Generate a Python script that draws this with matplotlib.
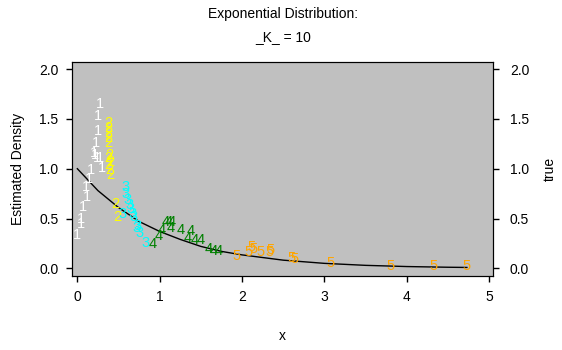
import matplotlib
matplotlib.use("Agg")
import matplotlib.pyplot as plt

plt.rcParams["font.family"] = ["Liberation Sans", "DejaVu Sans"]

# cluster points (x, estimated density), label drawn is the cluster number
c1_x = [0.27, 0.25, 0.25, 0.23, 0.20, 0.21, 0.24, 0.27, 0.30, 0.17, 0.14, 0.10, 0.12, 0.07, 0.04, 0.04, 0.00]
c1_y = [1.65, 1.53, 1.38, 1.26, 1.16, 1.14, 1.11, 1.11, 1.01, 0.99, 0.90, 0.82, 0.72, 0.62, 0.50, 0.45, 0.33]

c2_x = [0.38, 0.38, 0.38, 0.38, 0.38, 0.39, 0.38, 0.40, 0.37, 0.39, 0.40, 0.46, 0.48]
c2_y = [1.46, 1.41, 1.36, 1.31, 1.26, 1.14, 1.11, 1.07, 1.04, 0.99, 0.94, 0.65, 0.52]

c3_x = [0.585, 0.585, 0.61, 0.63, 0.65, 0.67, 0.55, 0.68, 0.72, 0.73, 0.75, 0.83]
c3_y = [0.82, 0.75, 0.69, 0.64, 0.60, 0.55, 0.55, 0.52, 0.40, 0.42, 0.35, 0.25]

c4_x = [0.91, 0.99, 1.03, 1.07, 1.11, 1.15, 1.13, 1.26, 1.38, 1.34, 1.42, 1.50, 1.60, 1.66, 1.71]
c4_y = [0.24, 0.32, 0.38, 0.47, 0.47, 0.47, 0.40, 0.38, 0.37, 0.30, 0.28, 0.28, 0.19, 0.17, 0.17]

c5_x = [1.93, 2.08, 2.11, 2.14, 2.23, 2.33, 2.35, 2.60, 2.64, 3.07, 3.80, 4.32, 4.73]
c5_y = [0.12, 0.16, 0.21, 0.19, 0.16, 0.16, 0.18, 0.10, 0.09, 0.05, 0.02, 0.02, 0.02]

clusters = [
    ("1", c1_x, c1_y, "white"),
    ("2", c2_x, c2_y, "#ffff00"),
    ("3", c3_x, c3_y, "#00ffff"),
    ("4", c4_x, c4_y, "#008000"),
    ("5", c5_x, c5_y, "#ffa500"),
]

# true density curve
true_x = [0.0, 0.25, 0.5, 0.75, 1.0, 1.25, 1.5, 1.75, 2.0, 2.5, 3.0, 3.5, 4.0, 4.5, 4.73]
true_y = [1.0, 0.78, 0.61, 0.47, 0.37, 0.29, 0.22, 0.17, 0.135, 0.082, 0.05, 0.03, 0.018, 0.011, 0.009]

y_ticks = [0.0, 0.5, 1.0, 1.5, 2.0]
y_labels = ["0.0", "0.5", "1.0", "1.5", "2.0"]

fig = plt.figure(figsize=(5.62, 3.5), dpi=100)
ax = fig.add_axes([0.1287, 0.2114, 0.749, 0.6123])
ax.set_facecolor("#c0c0c0")

for label, xs, ys, col in clusters:
    for x, y in zip(xs, ys):
        ax.text(x, y, label, color=col, fontsize=10.5, ha="center", va="center")

ax.plot(true_x, true_y, color="black", lw=1)

ax.set_xlim(-0.061, 5.05)
ax.set_ylim(-0.077, 2.074)
ax.set_xticks([0, 1, 2, 3, 4, 5])
ax.set_yticks(y_ticks)
ax.set_yticklabels(y_labels)
ax.tick_params(direction="out", length=4, width=1, labelsize=10, pad=6)
ax.set_xlabel("x", fontsize=10, labelpad=18)
ax.set_ylabel("Estimated Density", fontsize=10, labelpad=10)

ax2 = ax.twinx()
ax2.set_ylim(ax.get_ylim())
ax2.set_yticks(y_ticks)
ax2.set_yticklabels(y_labels)
ax2.tick_params(direction="out", length=4, width=1, labelsize=10, pad=8)
ax2.set_ylabel("true", fontsize=10, labelpad=10)

fig.text(0.503, 0.96, "Exponential Distribution:", ha="center", va="center", fontsize=10)
fig.text(0.503, 0.895, "_K_ = 10", ha="center", va="center", fontsize=10)

fig.savefig("out.png", dpi=100)
